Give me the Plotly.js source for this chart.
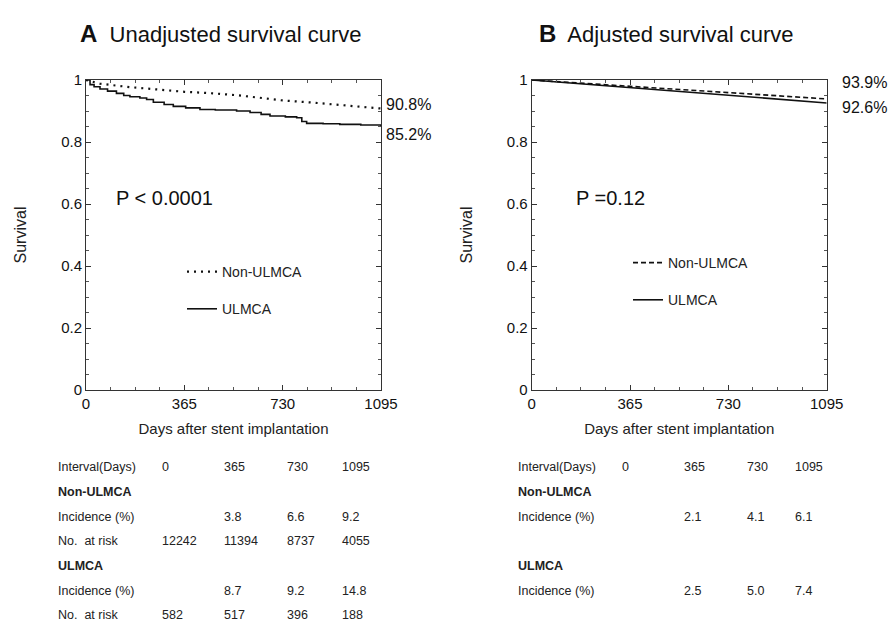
<!DOCTYPE html>
<html>
<head>
<meta charset="utf-8">
<script src="https://cdn.plot.ly/plotly-3.0.1.min.js"></script>
<style>html,body{margin:0;padding:0;background:#fff;}#chart{width:893px;height:623px;}</style>
</head>
<body>
<div id="chart"></div>
<script>
// ---------- DATA ----------
// Panel A: unadjusted Kaplan-Meier curves
const daysA_ulmca = [0, 15, 30, 52, 80, 113, 140, 163, 200, 225, 250, 290, 324, 370, 423, 480, 559, 609, 650, 683, 740, 782, 801, 819, 880, 942, 1020, 1095];
const survA_ulmca = [1, 0.985, 0.978, 0.971, 0.964, 0.957, 0.950, 0.946, 0.942, 0.937, 0.928, 0.921, 0.915, 0.910, 0.905, 0.903, 0.900, 0.895, 0.889, 0.884, 0.881, 0.878, 0.866, 0.860, 0.859, 0.857, 0.855, 0.852];
const daysA_non = [0, 52, 163, 299, 365, 471, 559, 683, 730, 843, 1095];
const survA_non = [1, 0.988, 0.977, 0.966, 0.962, 0.957, 0.951, 0.939, 0.934, 0.927, 0.908];
// Panel B: adjusted curves
const daysB = [0, 365, 730, 1095];
const survB_non = [1, 0.979, 0.959, 0.939];
const survB_ulmca = [1, 0.975, 0.950, 0.926];

const xTickVals = [0, 365, 730, 1095];
const yTickVals = [0, 0.2, 0.4, 0.6, 0.8, 1];

// Tables
const tableHeader = ["Interval(Days)", "0", "365", "730", "1095"];
const rowLabelsA = ["Non-ULMCA", "Incidence (%)", "No.  at risk", "ULMCA", "Incidence (%)", "No.  at risk"];
const incA_non = ["3.8", "6.6", "9.2"];
const riskA_non = ["12242", "11394", "8737", "4055"];
const incA_ulmca = ["8.7", "9.2", "14.8"];
const riskA_ulmca = ["582", "517", "396", "188"];
const rowLabelsB = ["Non-ULMCA", "Incidence (%)", "ULMCA", "Incidence (%)"];
const incB_non = ["2.1", "4.1", "6.1"];
const incB_ulmca = ["2.5", "5.0", "7.4"];

// ---------- LAYOUT HELPERS ----------
const W = 893, H = 623;
const px = v => v / W;
const py = v => 1 - v / H;
const FONT = "Liberation Sans, Arial, sans-serif";

const traces = [
  {x: daysA_non, y: survA_non, xaxis: 'x', yaxis: 'y', mode: 'lines', name: 'Non-ULMCA',
   line: {color: '#111', width: 2.2, dash: '2px,5px'}, legend: 'legend', legendgroup: 'a1'},
  {x: daysA_ulmca, y: survA_ulmca, xaxis: 'x', yaxis: 'y', mode: 'lines', name: 'ULMCA',
   line: {color: '#111', width: 1.6, shape: 'hv'}, legend: 'legend', legendgroup: 'a2'},
  {x: daysB, y: survB_non, xaxis: 'x2', yaxis: 'y2', mode: 'lines', name: 'Non-ULMCA',
   line: {color: '#111', width: 1.6, dash: '5px,3px'}, legend: 'legend2', legendgroup: 'b1'},
  {x: daysB, y: survB_ulmca, xaxis: 'x2', yaxis: 'y2', mode: 'lines', name: 'ULMCA',
   line: {color: '#111', width: 1.6}, legend: 'legend2', legendgroup: 'b2'}
];

function xax(domain, anchor) {
  return {domain: domain, anchor: anchor, range: [0, 1095], tickvals: xTickVals,
    ticks: 'inside', ticklen: 5, tickcolor: '#333', showline: true, linecolor: '#333', linewidth: 1,
    mirror: 'ticks', showgrid: false, zeroline: false,
    minor: {dtick: 91.25, tick0: 0, ticks: 'inside', ticklen: 3, tickcolor: '#555'},
    tickfont: {family: FONT, size: 15, color: '#111'},
    title: {text: 'Days after stent implantation', font: {family: FONT, size: 15, color: '#222'}, standoff: 12}};
}
function yax(domain, anchor) {
  return {domain: domain, anchor: anchor, range: [0, 1], tickvals: yTickVals,
    ticks: 'inside', ticklen: 5, tickcolor: '#333', showline: true, linecolor: '#333', linewidth: 1,
    mirror: 'ticks', showgrid: false, zeroline: false,
    minor: {dtick: 0.05, tick0: 0, ticks: 'inside', ticklen: 3, tickcolor: '#555'},
    tickfont: {family: FONT, size: 15, color: '#111'},
    title: {text: 'Survival', font: {family: FONT, size: 16, color: '#222'}, standoff: 30}};
}

const yDom = [py(390), py(80)];
const annotations = [];

// Titles
annotations.push({xref: 'paper', yref: 'paper', x: px(78), y: py(33), xanchor: 'left', yanchor: 'middle',
  text: '<b style="font-size:24px">A</b>  Unadjusted survival curve', showarrow: false, font: {family: FONT, size: 22, color: '#111'}});
annotations.push({xref: 'paper', yref: 'paper', x: px(537), y: py(33), xanchor: 'left', yanchor: 'middle',
  text: '<b style="font-size:24px">B</b>  Adjusted survival curve', showarrow: false, font: {family: FONT, size: 22, color: '#111'}});

// P-values
annotations.push({xref: 'paper', yref: 'paper', x: px(114), y: py(198), xanchor: 'left', yanchor: 'middle',
  text: 'P < 0.0001', showarrow: false, font: {family: FONT, size: 20, color: '#111'}});
annotations.push({xref: 'paper', yref: 'paper', x: px(574), y: py(198), xanchor: 'left', yanchor: 'middle',
  text: 'P =0.12', showarrow: false, font: {family: FONT, size: 20, color: '#111'}});

// End-point percent labels
const pct = v => (v * 100).toFixed(1) + '%';
const endLabels = [
  {xr: 'x', yr: 'y', d: daysA_non, s: survA_non, xs: 3, ys: 4},
  {xr: 'x', yr: 'y', d: daysA_ulmca, s: survA_ulmca, xs: 3, ys: -9},
  {xr: 'x2', yr: 'y2', d: daysB, s: survB_non, xs: 13, ys: 16},
  {xr: 'x2', yr: 'y2', d: daysB, s: survB_ulmca, xs: 13, ys: -5}
];
endLabels.forEach(e => {
  const n = e.d.length - 1;
  annotations.push({xref: e.xr, yref: e.yr, x: e.d[n], y: e.s[n], xanchor: 'left', yanchor: 'middle',
    xshift: e.xs, yshift: e.ys, text: pct(e.s[n]), showarrow: false, font: {family: FONT, size: 16, color: '#111'}});
});

// Tables
const TFONT = {family: FONT, size: 12.5, color: '#222'};
function tableText(x, y, text, bold) {
  annotations.push({xref: 'paper', yref: 'paper', x: px(x), y: py(y), xanchor: 'left', yanchor: 'middle',
    text: bold ? '<b>' + text + '</b>' : text, showarrow: false, font: TFONT});
}
function buildTable(labelX, colX, rowY, labels, rows) {
  tableHeader.forEach((t, i) => tableText(i === 0 ? labelX : colX[i - 1], rowY[0], t, false));
  labels.forEach((lab, r) => {
    const bold = (lab === 'Non-ULMCA' || lab === 'ULMCA');
    tableText(labelX, rowY[r + 1], lab, bold);
    const vals = rows[r];
    if (vals) {
      const start = vals.length === 3 ? 1 : 0;
      vals.forEach((v, j) => tableText(colX[start + j], rowY[r + 1], v, false));
    }
  });
}
buildTable(56, [160, 222, 285, 340], [467, 492, 517, 541, 566, 591, 615], rowLabelsA,
  [null, incA_non, riskA_non, null, incA_ulmca, riskA_ulmca]);
buildTable(516, [620, 682, 745, 793], [467, 492, 517, 566, 591], rowLabelsB,
  [null, incB_non, null, incB_ulmca]);

const legendBase = {bgcolor: 'rgba(0,0,0,0)', borderwidth: 0, xanchor: 'left', yanchor: 'top',
  font: {family: FONT, size: 14, color: '#222'}, traceorder: 'grouped', tracegroupgap: 16, itemwidth: 30};

const layout = {
  width: W, height: H, margin: {l: 0, r: 0, t: 0, b: 0}, paper_bgcolor: '#fff', plot_bgcolor: '#fff',
  font: {family: FONT, color: '#111'},
  xaxis: xax([px(86), px(381)], 'y'),
  yaxis: yax(yDom, 'x'),
  xaxis2: xax([px(531.7), px(826.7)], 'y2'),
  yaxis2: yax(yDom, 'x2'),
  legend: Object.assign({}, legendBase, {x: px(182), y: py(256)}),
  legend2: Object.assign({}, legendBase, {x: px(628), y: py(247)}),
  annotations: annotations,
  showlegend: true
};

Plotly.newPlot('chart', traces, layout, {displayModeBar: false, staticPlot: true});
</script>
</body>
</html>
